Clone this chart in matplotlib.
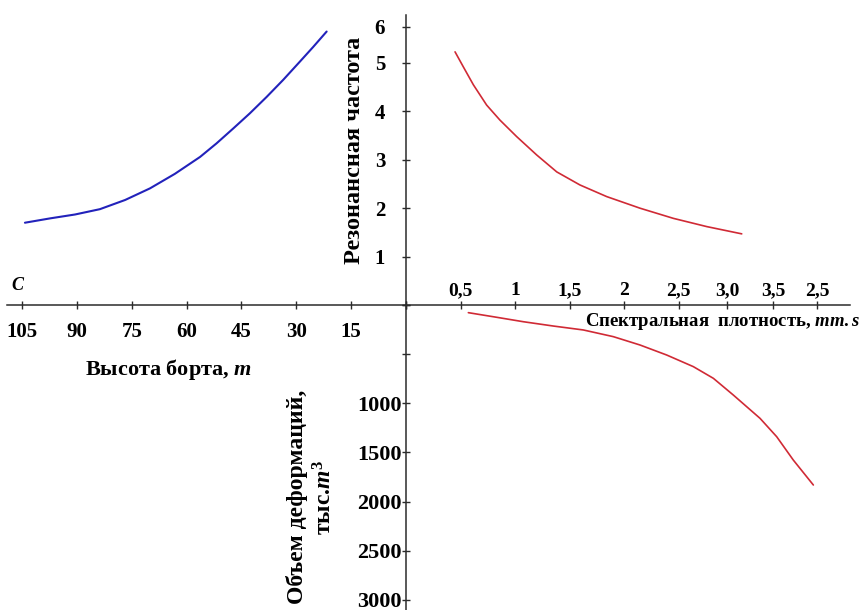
import numpy as np
import matplotlib.pyplot as plt

# ---- данные номограммы ----
# верхний левый квадрант: высота борта (м) -> резонансная частота
vysota = [104.2, 97.3, 90.5, 83.7, 76.8, 70.0, 63.2, 56.3, 51.8, 47.2,
          42.7, 38.1, 33.6, 29.0, 25.4, 21.7]
chastota_v = [1.70, 1.79, 1.87, 1.98, 2.17, 2.41, 2.71, 3.06, 3.34, 3.65,
              3.96, 4.30, 4.65, 5.03, 5.33, 5.65]

# верхний правый квадрант: спектральная плотность -> резонансная частота
plotnost_1 = [0.450, 0.526, 0.618, 0.740, 0.862, 1.015, 1.199, 1.383,
              1.596, 1.841, 2.147, 2.453, 2.759, 3.080]
chastota_p = [5.23, 4.92, 4.55, 4.13, 3.82, 3.48, 3.10, 2.75,
              2.48, 2.24, 2.00, 1.79, 1.62, 1.47]

# нижний правый квадрант: спектральная плотность -> объем деформаций
plotnost_2 = [0.572, 0.832, 1.076, 1.352, 1.627, 1.902, 2.147, 2.392,
              2.636, 2.820, 3.003, 3.248, 3.401, 3.553, 3.737]
obem = [78, 125, 170, 214, 254, 322, 407, 509,
        627, 746, 916, 1153, 1340, 1577, 1831]

# шкалы
tick_vys = [0, 15, 30, 45, 60, 75, 90, 105]
lab_vys = ['', '15', '30', '45', '60', '75', '90', '105']
tick_ch = [0, 1, 2, 3, 4, 5, 5.75]
lab_ch = ['', '1', '2', '3', '4', '5', '6']
tick_pl = [0, 0.5, 1.0, 1.5, 2.0, 2.5, 2.945, 3.367, 3.77]
lab_pl = ['', '0,5', '1', '1,5', '2', '2,5', '3,0', '3,5', '2,5']
tick_ob = [0, 500, 1000, 1500, 2000, 2500, 3000]
lab_ob = ['', '', '1000', '1500', '2000', '2500', '3000']

plt.rcParams['font.family'] = 'Liberation Serif'
plt.rcParams['font.weight'] = 'bold'
plt.rcParams['mathtext.fontset'] = 'custom'
plt.rcParams['mathtext.rm'] = 'Liberation Serif:bold'
plt.rcParams['mathtext.it'] = 'Liberation Serif:italic:bold'

W, H = 864, 610
fig = plt.figure(figsize=(W / 100, H / 100), dpi=100)

x0, y0 = 406, 305          # точка пересечения осей (пиксели)
left, right, top = 7, 850, 15
axcol = '#2b2b2b'

def box(l, t, r, b):
    return [l / W, 1 - b / H, (r - l) / W, (b - t) / H]

ax_ul = fig.add_axes(box(left, top, x0, y0))
ax_ur = fig.add_axes(box(x0, top, right, y0))
ax_lr = fig.add_axes(box(x0, y0, right, H))

for ax in (ax_ul, ax_ur, ax_lr):
    ax.patch.set_alpha(0)
    for s in ax.spines.values():
        s.set_visible(False)
        s.set_color(axcol)
        s.set_linewidth(1.1)
    ax.tick_params(direction='inout', length=6, width=1.0, color=axcol)

ax_ul.set_xlim((x0 - left) / 3.657, 0)
ax_ul.set_ylim(0, (y0 - top) / 48.4)
ax_ur.set_xlim(0, (right - x0) / 109)
ax_ur.set_ylim(0, (y0 - top) / 48.4)
ax_lr.set_xlim(0, (right - x0) / 109)
ax_lr.set_ylim((H - y0) / 0.0983, 0)

# кривые
ax_ul.plot(vysota, chastota_v, color='#2222bb', lw=1.5, solid_capstyle='round')
ax_ur.plot(plotnost_1, chastota_p, color='#d02a35', lw=1.2, solid_capstyle='round')
ax_lr.plot(plotnost_2, obem, color='#d02a35', lw=1.2, solid_capstyle='round')

# горизонтальная ось слева
ax_ul.spines['bottom'].set_visible(True)
ax_ul.set_xticks(tick_vys, lab_vys)
ax_ul.tick_params(axis='x', labelsize=15, pad=9)
ax_ul.set_yticks([])

# вертикальная ось сверху
ax_ur.spines['left'].set_visible(True)
ax_ur.spines['bottom'].set_visible(True)
ax_ur.set_yticks(tick_ch, lab_ch)
ax_ur.tick_params(axis='y', labelsize=15, pad=12)
ax_ur.set_xticks([])

# горизонтальная ось справа (подписи сверху) и вертикальная ось снизу
ax_lr.spines['left'].set_visible(True)
ax_lr.xaxis.tick_top()
ax_lr.set_xticks(tick_pl, lab_pl)
ax_lr.tick_params(axis='x', labelsize=14, pad=1)
ax_lr.set_yticks(tick_ob, lab_ob)
ax_lr.tick_params(axis='y', labelsize=16, pad=0)

# подписи осей
fig.text(168 / W, 1 - 370 / H, 'Высота борта, $m$', fontsize=16,
         ha='center', va='center')
fig.text(354 / W, 1 - 150 / H, 'Резонансная частота', fontsize=17.5,
         rotation=90, ha='center', va='center')
fig.text(723 / W, 1 - 322 / H, 'Спектральная  плотность, $mm.s$',
         fontsize=13.5, ha='center', va='center')
fig.text(297 / W, 1 - 497 / H, 'Объем деформаций,', fontsize=17,
         rotation=90, ha='center', va='center')
fig.text(325 / W, 1 - 497 / H, 'тыс.$m^3$', fontsize=17,
         rotation=90, ha='center', va='center')
fig.text(18 / W, 1 - 285 / H, '$C$', fontsize=13, ha='center', va='center')

fig.savefig('out.png', dpi=100)
